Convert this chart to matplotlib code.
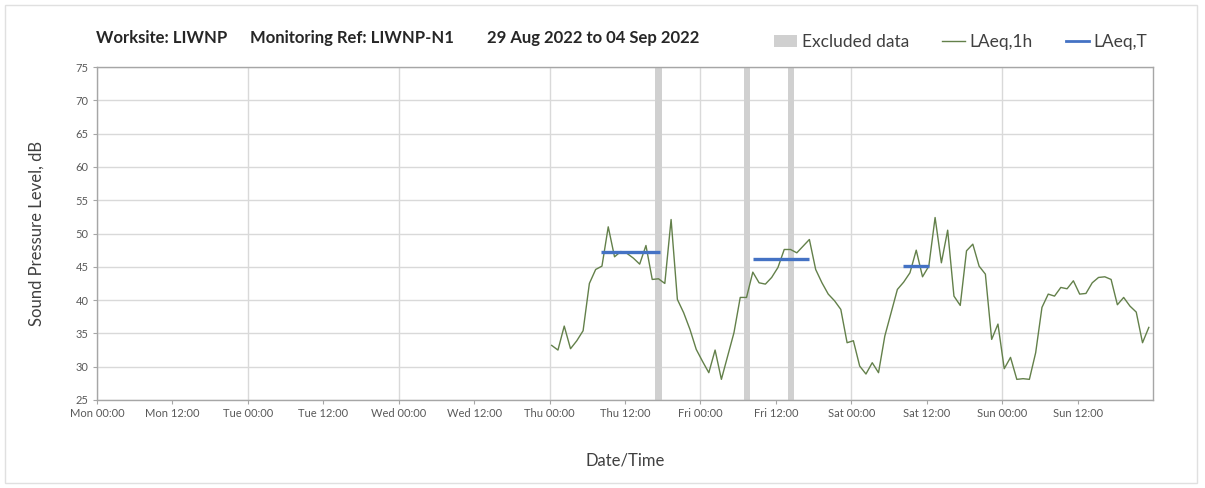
import matplotlib.pyplot as plt
import matplotlib.dates as mdates
from matplotlib.patches import Patch, Rectangle
from matplotlib.lines import Line2D
import pandas as pd

plt.rcParams['font.family'] = ['Lato', 'DejaVu Sans']

# hourly LAeq,1h values, Thu 01 Sep 00:00 -> Sun 04 Sep 23:00
thu = [33.2, 32.5, 36.1, 32.7, 33.9, 35.4, 42.5, 44.6, 45.1, 51.0, 46.5, 47.3,
       47.0, 46.3, 45.4, 48.2, 43.1, 43.2, 42.5, 52.1, 40.1, 38.1, 35.6, 32.6]
fri = [30.8, 29.1, 32.5, 28.1, 31.6, 35.1, 40.4, 40.4, 44.2, 42.6, 42.4, 43.4,
       44.9, 47.6, 47.6, 47.1, 48.1, 49.1, 44.6, 42.6, 40.9, 39.9, 38.6, 33.6]
sat = [33.9, 30.1, 28.9, 30.6, 29.1, 34.6, 38.1, 41.6, 42.7, 44.1, 47.5, 43.5,
       45.1, 52.4, 45.6, 50.5, 40.6, 39.2, 47.4, 48.4, 45.1, 43.9, 34.1, 36.4]
sun = [29.7, 31.4, 28.1, 28.2, 28.1, 32.1, 38.9, 40.9, 40.6, 41.9, 41.7, 42.9,
       40.9, 41.0, 42.6, 43.4, 43.5, 43.1, 39.3, 40.4, 39.1, 38.2, 33.6, 35.9]
laeq_1h = thu + fri + sat + sun
times_1h = pd.date_range('2022-09-01 00:20', periods=len(laeq_1h), freq='h')

# LAeq,T periods (start, end, level)
laeq_t_start = ['2022-09-01 08:15', '2022-09-02 08:20', '2022-09-03 08:10']
laeq_t_end = ['2022-09-01 17:30', '2022-09-02 17:20', '2022-09-03 12:25']
laeq_t_level = [47.2, 46.2, 45.1]

# excluded data periods
excl_start = ['2022-09-01 16:50', '2022-09-02 07:00', '2022-09-02 14:00']
excl_end = ['2022-09-01 17:50', '2022-09-02 07:55', '2022-09-02 14:55']

x_start = pd.Timestamp('2022-08-29 00:00')
x_end = pd.Timestamp('2022-09-05 00:00')

title_parts = ['Worksite: LIWNP', 'Monitoring Ref: LIWNP-N1', '29 Aug 2022 to 04 Sep 2022']

grey_txt = '#595959'
grid_col = '#d9d9d9'
line_col = '#63804a'
blue_col = '#4472c4'
excl_col = '#d0d0d0'

fig = plt.figure(figsize=(12.05, 4.88), dpi=100)
ax = fig.add_axes([97 / 1205, 1 - 400 / 488, (1153 - 97) / 1205, (400 - 67) / 488])

# excluded bands
for s, e in zip(excl_start, excl_end):
    ax.axvspan(pd.Timestamp(s), pd.Timestamp(e), color=excl_col, lw=0, zorder=1)

ax.plot(times_1h, laeq_1h, color=line_col, lw=1.0, zorder=3)

for s, e, v in zip(laeq_t_start, laeq_t_end, laeq_t_level):
    ax.plot([pd.Timestamp(s), pd.Timestamp(e)], [v, v], color=blue_col, lw=2.4,
            solid_capstyle='butt', zorder=4)

ax.set_xlim(x_start, x_end)
ax.set_ylim(25, 75)
ax.set_yticks(range(25, 80, 5))

# day ticks (with grid) and midday ticks
fmt = mdates.DateFormatter('%a %H:%M')
ax.set_xticks(pd.date_range('2022-08-29 00:00', periods=7, freq='D'))
ax.set_xticks(pd.date_range('2022-08-29 12:00', periods=7, freq='D'), minor=True)
ax.xaxis.set_major_formatter(fmt)
ax.xaxis.set_minor_formatter(fmt)
ax.grid(True, axis='y', color=grid_col, lw=1.0, zorder=0)
ax.grid(True, axis='x', which='major', color=grid_col, lw=1.0, zorder=0)
ax.set_axisbelow(True)

ax.tick_params(axis='both', which='both', labelsize=8, colors=grey_txt,
               length=3, width=0.8, direction='out', pad=3)
ax.tick_params(axis='x', which='both', color='#a6a6a6')
ax.tick_params(axis='y', color='#a6a6a6')
for sp in ax.spines.values():
    sp.set_color('#a6a6a6')
    sp.set_linewidth(1.0)

ax.set_ylabel('Sound Pressure Level, dB', fontsize=12, color='#404040', labelpad=22)
ax.set_xlabel('Date/Time', fontsize=12, color='#404040', labelpad=24)

# title pieces
for xp, txt in zip([96, 250, 487], title_parts):
    fig.text(xp / 1205, 1 - 38 / 488, txt, fontsize=12, fontweight='bold',
             color='#262626', va='center', ha='left')

handles = [Patch(facecolor=excl_col, edgecolor='none'),
           Line2D([], [], color=line_col, lw=1.0),
           Line2D([], [], color=blue_col, lw=2.0)]
fig.legend(handles, ['Excluded data', 'LAeq,1h', 'LAeq,T'], ncol=3, frameon=False,
           loc='center right', bbox_to_anchor=(1163 / 1205, 1 - 42 / 488),
           fontsize=12.5, labelcolor='#404040', handlelength=1.35, handletextpad=0.25,
           columnspacing=1.9)

# thin outer frame
fig.patches.append(Rectangle((5 / 1205, 5 / 488), 1192 / 1205, 478 / 488,
                             transform=fig.transFigure, fill=False,
                             edgecolor='#e0e0e0', lw=1.0))

fig.savefig('out.png', dpi=100)
